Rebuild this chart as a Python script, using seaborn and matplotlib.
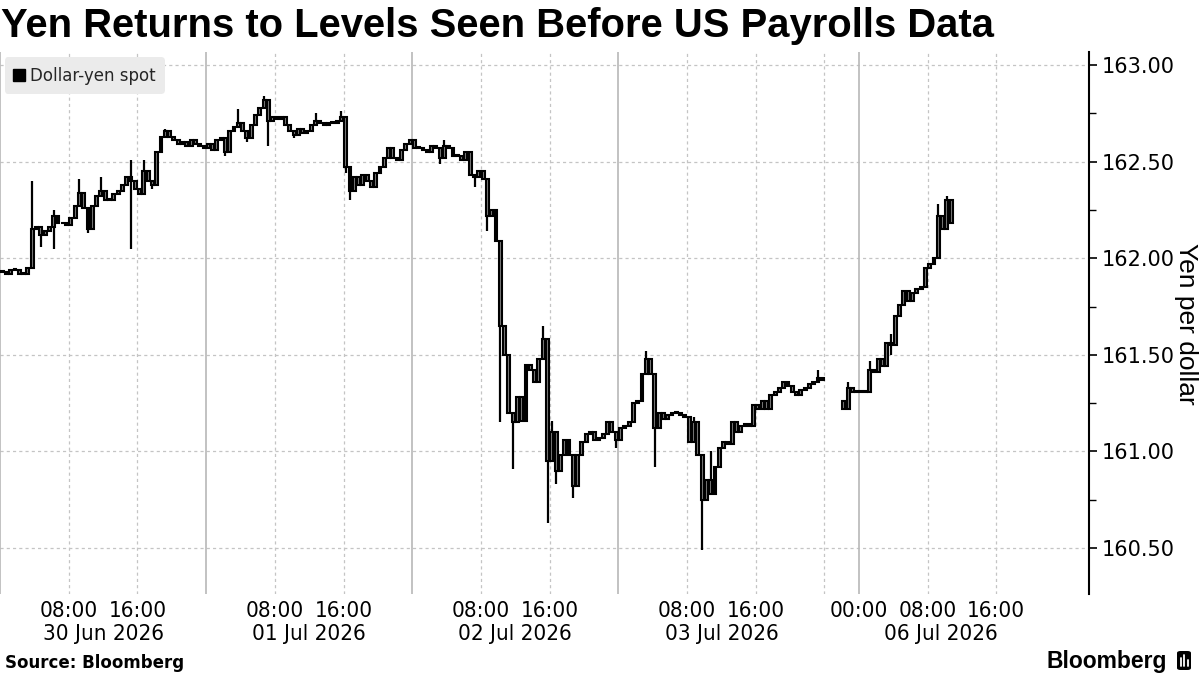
import numpy as np
import pandas as pd
import matplotlib
matplotlib.use("Agg")
import matplotlib.pyplot as plt
import seaborn as sns
from matplotlib.lines import Line2D
from matplotlib.patches import FancyBboxPatch
from matplotlib import transforms

# ---------------- data (30-minute USD/JPY candles, closes) ----------------
jun30_close = [161.93, 161.92, 161.94, 161.94, 161.92, 161.92, 161.95, 162.15,
               162.16, 162.12, 162.14, 162.16, 162.22, 162.18, 162.18, 162.17,
               162.21, 162.27, 162.34, 162.26, 162.15, 162.27, 162.32, 162.35,
               162.30, 162.30, 162.33, 162.35, 162.38, 162.42, 162.40, 162.36,
               162.33, 162.45, 162.40, 162.38, 162.55, 162.63, 162.66, 162.63,
               162.61, 162.59, 162.60, 162.58, 162.61, 162.59, 162.58, 162.57]
jul01_close = [162.59, 162.56, 162.61, 162.62, 162.55, 162.66, 162.68, 162.70,
               162.66, 162.62, 162.69, 162.74, 162.78, 162.82, 162.71, 162.73,
               162.72, 162.73, 162.69, 162.66, 162.64, 162.67, 162.65, 162.66,
               162.69, 162.71, 162.70, 162.69, 162.70, 162.70, 162.71, 162.73,
               162.47, 162.35, 162.42, 162.38, 162.43, 162.40, 162.37, 162.44,
               162.47, 162.52, 162.57, 162.52, 162.51, 162.56, 162.59, 162.61]
jul02_close = [162.57, 162.57, 162.56, 162.55, 162.58, 162.57, 162.52, 162.58,
               162.57, 162.53, 162.53, 162.51, 162.55, 162.43, 162.42, 162.45,
               162.41, 162.22, 162.25, 162.09, 161.65, 161.50, 161.20, 161.15,
               161.28, 161.16, 161.45, 161.42, 161.36, 161.48, 161.58, 160.95,
               161.10, 160.90, 160.98, 161.06, 160.98, 160.82, 160.98, 161.05,
               161.09, 161.10, 161.06, 161.07, 161.09, 161.15, 161.10, 161.06]
jul03_close = [161.12, 161.13, 161.15, 161.25, 161.26, 161.40, 161.48, 161.40,
               161.12, 161.20, 161.17, 161.19, 161.20, 161.20, 161.19, 161.18,
               161.05, 161.15, 160.98, 160.75, 160.85, 160.78, 160.92, 161.02,
               161.05, 161.04, 161.15, 161.10, 161.13, 161.14, 161.13, 161.24,
               161.22, 161.26, 161.22, 161.29, 161.31, 161.33, 161.36, 161.34,
               161.31, 161.29, 161.32, 161.33, 161.35, 161.36, 161.38, 161.37]
jul06_close = [161.22, 161.33, 161.31, 161.31, 161.31, 161.31, 161.42, 161.41,
               161.48, 161.44, 161.56, 161.55, 161.70, 161.76, 161.83, 161.78,
               161.82, 161.84, 161.85, 161.95, 161.97, 162.00, 162.22, 162.15,
               162.30, 162.18]
session_starts = ["2026-06-30 00:00", "2026-07-01 00:00", "2026-07-02 00:00",
                  "2026-07-03 00:00", "2026-07-05 22:00"]
first_open = 161.93
jul06_open = 161.26

# wick extremes beyond candle bodies
wick_times = ["2026-06-30 03:30", "2026-06-30 04:30", "2026-06-30 06:00", "2026-06-30 09:00",
              "2026-06-30 10:00", "2026-06-30 11:30", "2026-06-30 15:00", "2026-06-30 16:30",
              "2026-06-30 17:30", "2026-06-30 19:00",
              "2026-07-01 02:00", "2026-07-01 03:30", "2026-07-01 04:30", "2026-07-01 06:30",
              "2026-07-01 07:00", "2026-07-01 10:00", "2026-07-01 12:30", "2026-07-01 15:30",
              "2026-07-01 16:00", "2026-07-01 16:30",
              "2026-07-02 03:00", "2026-07-02 03:30", "2026-07-02 07:00", "2026-07-02 08:30",
              "2026-07-02 10:00", "2026-07-02 11:30", "2026-07-02 15:00", "2026-07-02 15:30",
              "2026-07-02 16:00", "2026-07-02 16:30", "2026-07-02 18:30", "2026-07-02 23:30",
              "2026-07-03 03:00", "2026-07-03 04:00", "2026-07-03 08:30", "2026-07-03 09:30",
              "2026-07-03 10:30", "2026-07-03 23:00",
              "2026-07-05 22:30", "2026-07-06 01:00", "2026-07-06 03:30", "2026-07-06 09:00",
              "2026-07-06 10:00"]
wick_high = [162.40, None, 162.25, 162.41, None, 162.42, 162.51, 162.51, None, 162.67,
             None, 162.77, None, 162.84, None, None, 162.75, 162.76, None, None,
             None, 162.61, None, None, None, None, 161.65, None, 161.16, None, None, None,
             161.52, None, 161.18, None, 161.00, 161.42,
             161.36, 161.47, 161.61, 162.28, 162.32]
wick_low = [None, 162.06, 162.05, None, 162.13, None, 162.05, None, 162.36, None,
            162.53, None, 162.60, None, 162.58, 162.62, None, None, 162.44, 162.30,
            162.49, None, 162.37, 162.14, 161.15, 160.91, None, 160.63, None, 160.83, 160.76, 161.02,
            None, 160.92, None, 160.49, None, None,
            None, None, 161.50, None, None]

y_ticks = [160.50, 161.00, 161.50, 162.00, 162.50, 163.00]
xtick_times = ["2026-06-30 08:00", "2026-06-30 16:00", "2026-07-01 08:00", "2026-07-01 16:00",
               "2026-07-02 08:00", "2026-07-02 16:00", "2026-07-03 08:00", "2026-07-03 16:00",
               "2026-07-06 00:00", "2026-07-06 08:00", "2026-07-06 16:00"]
date_label_times = ["2026-06-30 12:00", "2026-07-01 12:00", "2026-07-02 12:00",
                    "2026-07-03 12:00", "2026-07-06 09:30"]
day_lines = ["2026-06-30 00:00", "2026-07-01 00:00", "2026-07-02 00:00",
             "2026-07-03 00:00", "2026-07-06 00:00"]
dash_lines = ["2026-06-30 08:00", "2026-06-30 16:00", "2026-07-01 08:00", "2026-07-01 16:00",
              "2026-07-02 08:00", "2026-07-02 16:00", "2026-07-03 08:00", "2026-07-03 16:00",
              "2026-07-04 00:00", "2026-07-06 08:00", "2026-07-06 16:00"]

title = "Yen Returns to Levels Seen Before US Payrolls Data"
series_name = "Dollar-yen spot"
y_title = "Yen per dollar"
source = "Source: Bloomberg"

# ---------------- broken (trading-time) axis ----------------
T0 = pd.Timestamp("2026-06-30 00:00")
WEEKEND_END = pd.Timestamp("2026-07-05 20:00")


def to_pos(ts):
    ts = pd.to_datetime(pd.Series(ts))
    h = (ts - T0) / pd.Timedelta(hours=1)
    return np.where(ts >= WEEKEND_END, h - 44.0, h)


closes_by_session = [jun30_close, jul01_close, jul02_close, jul03_close, jul06_close]
times, closes = [], []
for start, cl in zip(session_starts, closes_by_session):
    times.extend(pd.date_range(start, periods=len(cl), freq="30min"))
    closes.extend(cl)
df = pd.DataFrame({"time": times, "close": closes})
df["open"] = df["close"].shift(1)
df.loc[0, "open"] = first_open
df.loc[df["time"] == pd.Timestamp(session_starts[-1]), "open"] = jul06_open
wk = pd.DataFrame({"time": pd.to_datetime(wick_times),
                   "wh": np.array(wick_high, dtype=float),
                   "wl": np.array(wick_low, dtype=float)})
df = df.merge(wk, on="time", how="left")
df["high"] = np.fmax(df[["open", "close"]].max(axis=1), df["wh"])
df["low"] = np.fmin(df[["open", "close"]].min(axis=1), df["wl"])
df["pos"] = to_pos(df["time"] + pd.Timedelta(minutes=15))

# ---------------- style ----------------
sns.set_theme(style="white")
plt.rcParams["font.family"] = ["DejaVu Sans"]
NARROW = ["DejaVu Sans"]

fig = plt.figure(figsize=(12, 6.75), dpi=100)
ax = fig.add_axes([0.0, 0.1193, 0.9075, 0.803])
ax.set_xlim(0, 126.8)
ax.set_ylim(160.26, 163.065)

# grid
for y in y_ticks:
    ax.axhline(y, color="#c4c4c4", lw=0.9, ls=(0, (2.5, 2.5)), zorder=0)
for p in to_pos(dash_lines):
    ax.axvline(p, color="#c4c4c4", lw=0.9, ls=(0, (2.5, 2.5)), zorder=0)
for p in to_pos(day_lines):
    ax.axvline(p, color="#b8b8b8", lw=1.2, zorder=0)

# candles
ax.vlines(df["pos"], df["low"], df["high"], color="black", lw=1.6, zorder=2)
body_low = df[["open", "close"]].min(axis=1)
body_h = (df["close"] - df["open"]).abs().clip(lower=0.004)
ax.bar(df["pos"], body_h, bottom=body_low, width=0.34, color="#7d7d7d",
       edgecolor="black", linewidth=1.5, zorder=3)

# axes / spines
for s in ["left", "top", "bottom"]:
    ax.spines[s].set_visible(False)
ax.spines["right"].set_color("black")
ax.spines["right"].set_linewidth(1.5)

ax.yaxis.tick_right()
ax.set_yticks(y_ticks, [f"{v:.2f}" for v in y_ticks])
ax.set_yticks([v + 0.25 for v in y_ticks[:-1]], minor=True)
ax.tick_params(axis="y", which="major", length=6, width=1.2, color="black",
               direction="out", pad=3, labelsize=15, labelcolor="black", right=True)
ax.tick_params(axis="y", which="minor", length=5, width=1.0, color="black",
               direction="out", right=True)
fig.text(1186 / 1200, 1 - 323.5 / 675, y_title, rotation=270, ha="center", va="center",
         fontsize=19, family=["Liberation Sans", "DejaVu Sans"], color="black")

xt = to_pos(xtick_times)
ax.set_xticks(xt, [pd.Timestamp(t).strftime("%H:%M") for t in xtick_times])
ax.tick_params(axis="x", length=0, pad=5, labelsize=16, labelcolor="black")
for lab in ax.get_xticklabels():
    lab.set_family(NARROW)
    lab.set_fontstretch("condensed")

trans = transforms.blended_transform_factory(ax.transData, fig.transFigure)
for t, p in zip(date_label_times, to_pos(date_label_times)):
    ax.text(p, 1 - 634 / 675, pd.Timestamp(t).strftime("%d %b %Y"), transform=trans,
            ha="center", va="center", fontsize=16, family=NARROW, fontstretch="condensed",
            color="black")

# legend
leg = ax.legend(handles=[Line2D([], [], marker="s", ls="none", color="black", markersize=8)],
                labels=[series_name], loc="upper left", bbox_to_anchor=(0.0, 1.0),
                borderaxespad=0.3, fontsize=12, handlelength=0.6, handletextpad=0.35,
                borderpad=0.55, frameon=True, fancybox=True, framealpha=1)
leg.get_frame().set_facecolor("#ebebeb")
leg.get_frame().set_edgecolor("none")

# titles / footer
fig.text(0.001, 1 - 37 / 675, title, fontsize=28.8, fontweight="bold",
         family=["Liberation Sans", "DejaVu Sans"], va="baseline", ha="left", color="black")
fig.text(5 / 1200, 1 - 668 / 675, source, fontsize=12, fontweight="bold",
         va="baseline", ha="left", color="black")
fig.text(1167 / 1200, 1 - 668 / 675, "Bloomberg", fontsize=16.5, fontweight="bold",
         family=["Liberation Sans", "DejaVu Sans"], va="baseline", ha="right", color="black")
icon = FancyBboxPatch((1177 / 1200, 1 - 670 / 675), 14 / 1200, 19 / 675,
                      boxstyle="round,pad=0,rounding_size=0.003",
                      transform=fig.transFigure, facecolor="black", edgecolor="none")
fig.patches.append(icon)
for xx, y0, y1 in [(1180.5, 658, 666), (1184, 655, 666), (1187.5, 660, 666)]:
    fig.lines.append(Line2D([xx / 1200, xx / 1200], [1 - y1 / 675, 1 - y0 / 675],
                            transform=fig.transFigure, color="white", lw=1.3))

fig.savefig("out.png", dpi=100)
